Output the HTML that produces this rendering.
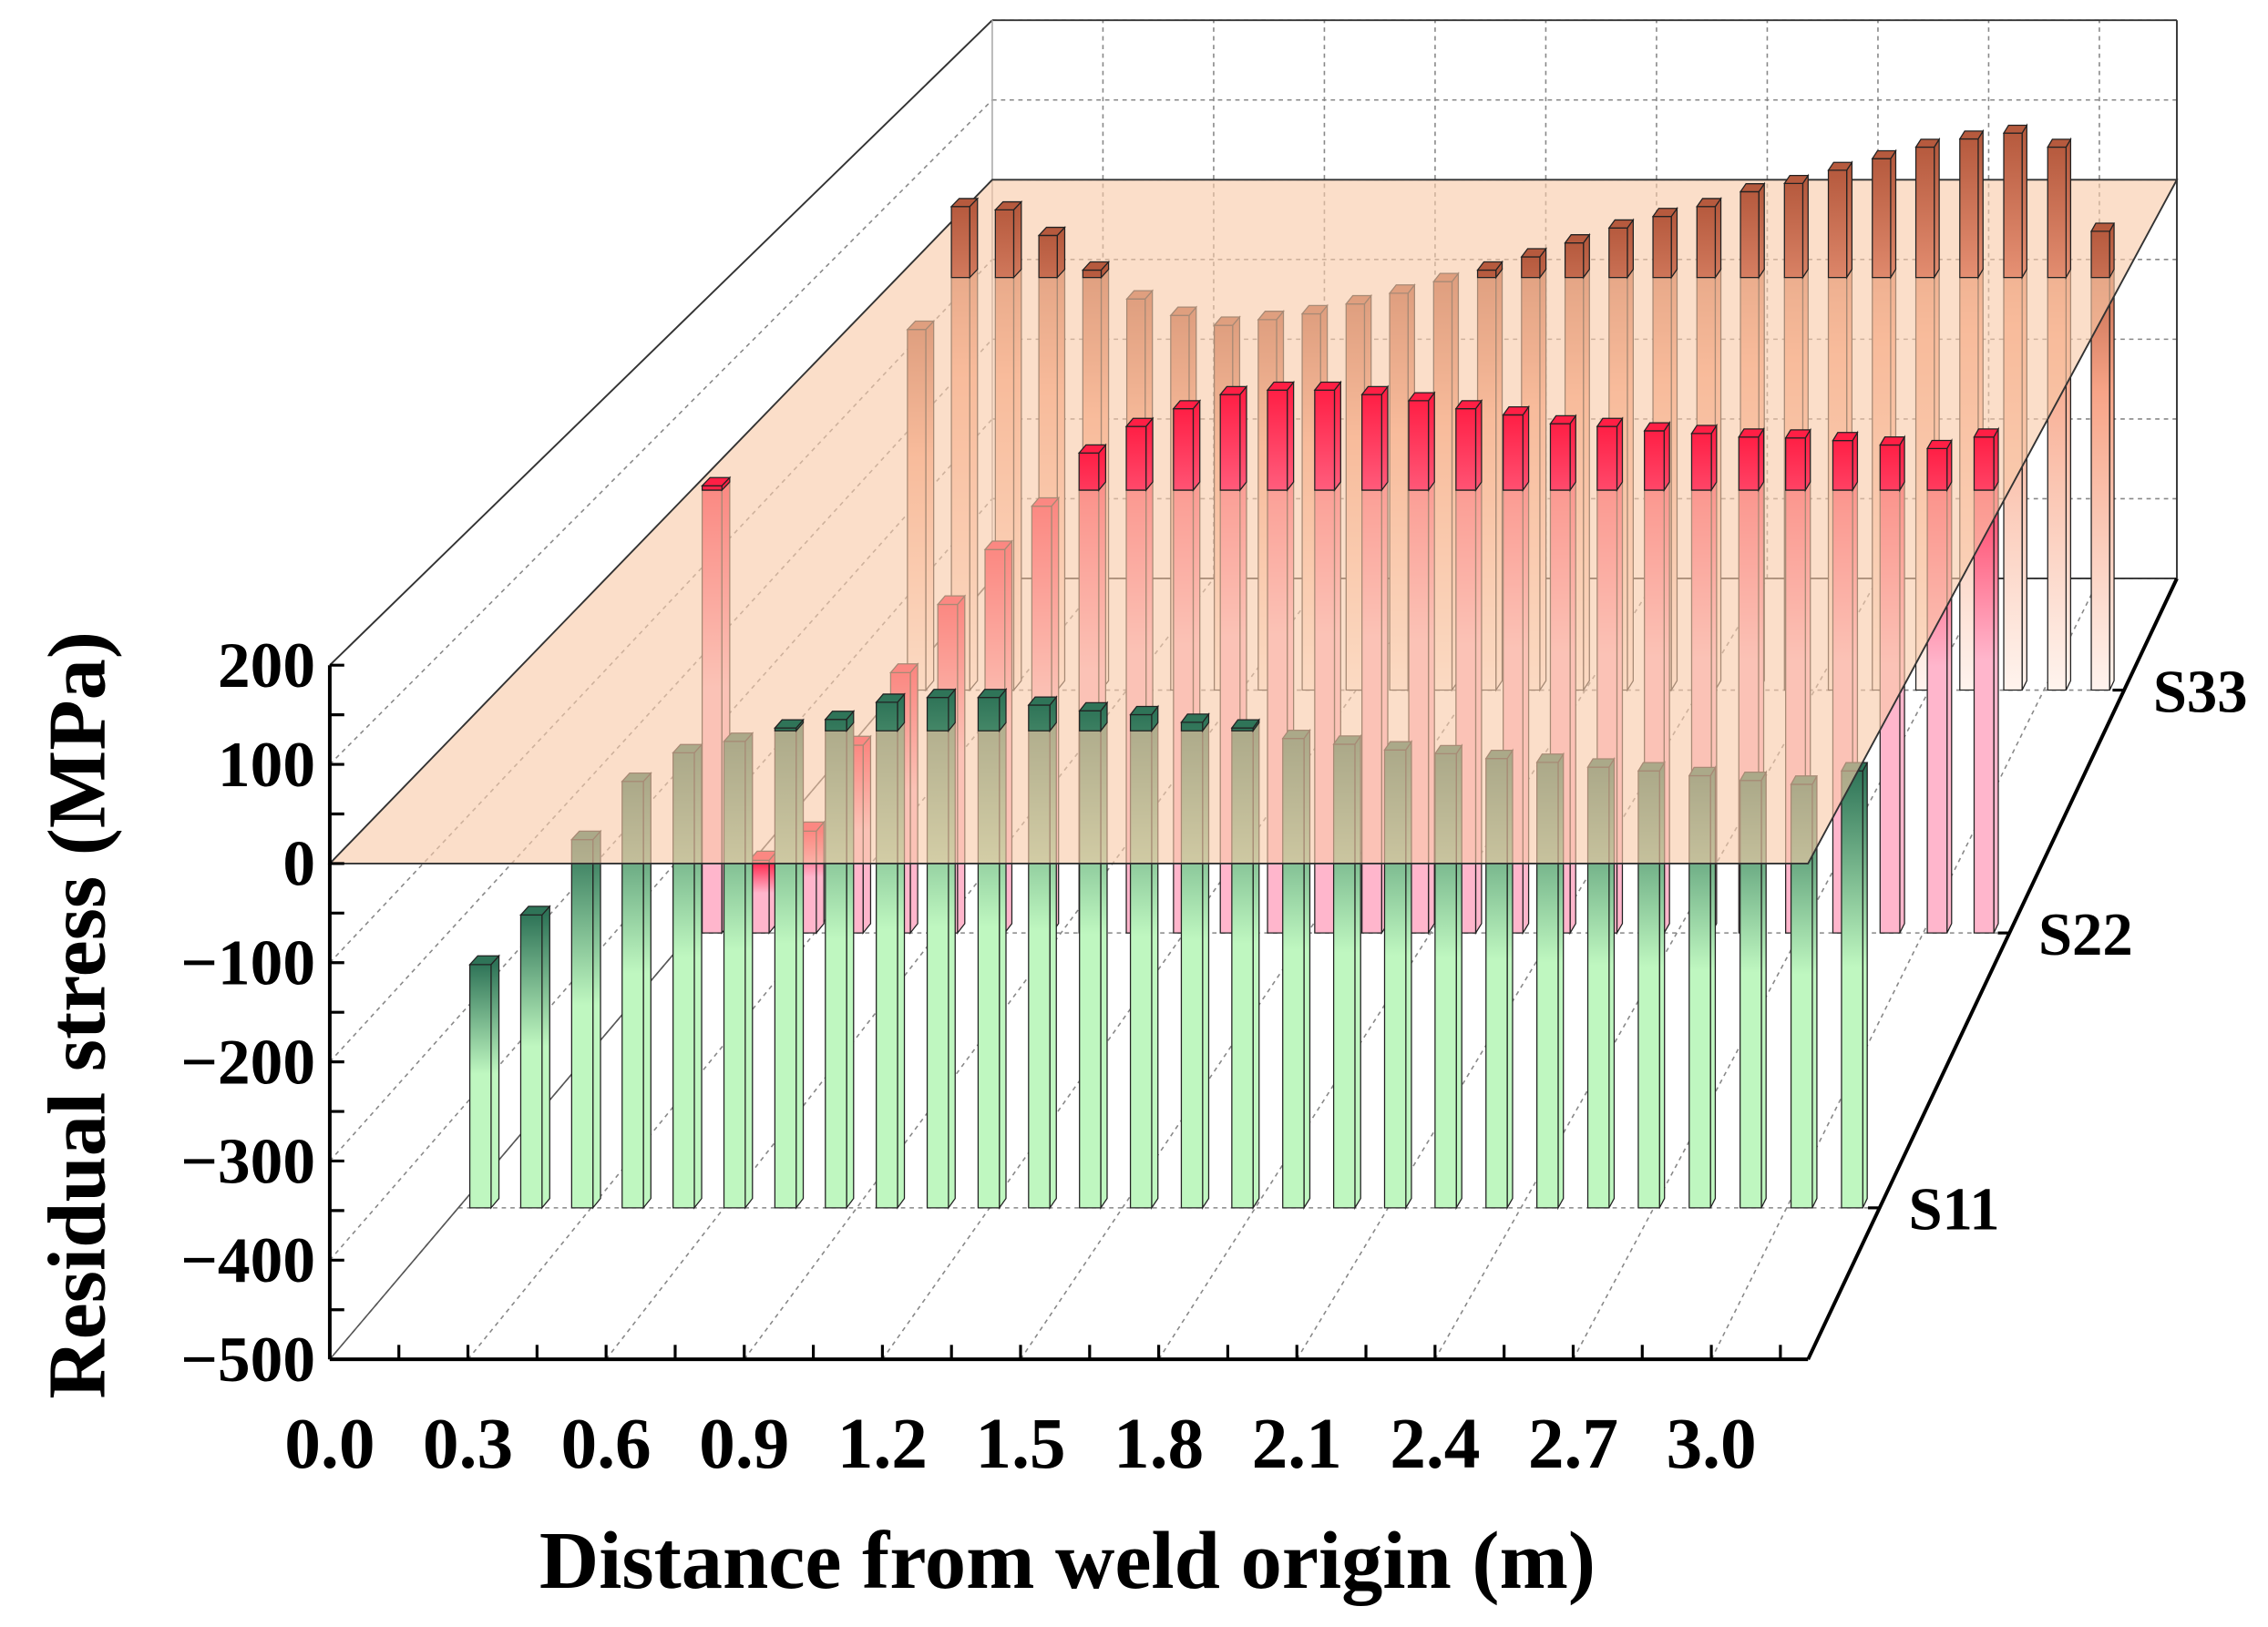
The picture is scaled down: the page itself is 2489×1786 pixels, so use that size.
<!DOCTYPE html>
<html><head><meta charset="utf-8"><style>
html,body{margin:0;padding:0;background:#fff}
svg{display:block}
text{font-family:"Liberation Serif",serif;font-weight:bold;fill:#000}
</style></head><body>
<svg id="chart" width="2489" height="1786" viewBox="0 0 1568 1125.1" preserveAspectRatio="none" xmlns="http://www.w3.org/2000/svg">
<defs id="defs"></defs>
<g id="grid"></g>
<g id="box"></g>
<g id="below"></g>
<g id="plane"></g>
<g id="above"></g>
<g id="axes"></g>
<text transform="translate(72,702) rotate(-90)" text-anchor="middle" font-size="57">Residual stress (MPa)</text>
<text x="738" y="1098" text-anchor="middle" font-size="57">Distance from weld origin (m)</text>
</svg>
<script>
const positions = [0.05,0.165,0.28,0.394,0.509,0.624,0.739,0.853,0.968,1.083,1.198,1.312,1.427,1.542,1.657,1.771,1.886,2.001,2.116,2.23,2.345,2.46,2.575,2.689,2.804,2.919,3.034,3.148];
const s11 = [-245,-193,-114,-53,-23,-11,3,12,30,35,35,27,21,17,9,3,-8,-14,-20,-24,-29,-33,-38,-42,-47,-52,-56,-42];
const s22 = [5,-418,-385,-288,-206,-129,-67,-18,42,72,92,108,113,113,108,101,92,85,75,72,67,64,60,59,56,51,47,60];
const s33 = [-63,86,82,51,9,-26,-46,-58,-51,-44,-32,-19,-5,9,25,42,60,74,86,104,114,130,144,158,168,175,158,56];
const seriesNames = ["S11","S22","S33"];
const seriesDepth = [0.194,0.546,0.857];
const xTickLabels = ["0.0","0.3","0.6","0.9","1.2","1.5","1.8","2.1","2.4","2.7","3.0"];
const yTickLabels = ["200","100","0","\u2212100","\u2212200","\u2212300","\u2212400","\u2212500"];
const yTickValues = [200,100,0,-100,-200,-300,-400,-500];

const XMAX=3.21, ZMIN=-500, ZMAX=200;
const NS="http://www.w3.org/2000/svg";
function L(d){return 228+458*d;} function R(d){return 1250+255*d;}
function B(d){return 940-540*d;} function T(d){return 460-446*d;}
function P(x,d,z){const l=L(d),r=R(d),b=B(d),t=T(d);return [l+x/XMAX*(r-l), b-(z-ZMIN)/(ZMAX-ZMIN)*(b-t)];}
function el(tag,attrs,parent){const e=document.createElementNS(NS,tag);for(const k in attrs)e.setAttribute(k,attrs[k]);parent.appendChild(e);return e;}
function pts(a){return a.map(p=>p[0].toFixed(2)+","+p[1].toFixed(2)).join(" ");}
const defs=document.getElementById('defs'),grid=document.getElementById('grid'),box=document.getElementById('box');
const below=document.getElementById('below'),above=document.getElementById('above'),plane=document.getElementById('plane'),axes=document.getElementById('axes');

const dash={stroke:"#888","stroke-width":1,"stroke-dasharray":"3,3",fill:"none"};
for(let x=0.3;x<XMAX;x+=0.3){
  let a=P(x,0,ZMIN),b=P(x,1,ZMIN);let ln=el('line',Object.assign({x1:a[0],y1:a[1],x2:b[0],y2:b[1]},dash),grid);
  
  a=P(x,1,ZMIN);b=P(x,1,ZMAX);ln=el('line',Object.assign({x1:a[0],y1:a[1],x2:b[0],y2:b[1]},dash),grid);
  
}
for(const z of yTickValues){
  let a=P(0,0,z),b=P(0,1,z);let ln=el('line',Object.assign({x1:a[0],y1:a[1],x2:b[0],y2:b[1]},dash),grid);
  
  a=P(0,1,z);b=P(XMAX,1,z);ln=el('line',Object.assign({x1:a[0],y1:a[1],x2:b[0],y2:b[1]},dash),grid);
  
}
for(const d of seriesDepth){
  const a=P(0,d,ZMIN),b=P(XMAX,d,ZMIN);const ln=el('line',Object.assign({x1:a[0],y1:a[1],x2:b[0],y2:b[1]},dash),grid);
  
}
function line(a,b,w,c,name,parent){const ln=el('line',{x1:a[0],y1:a[1],x2:b[0],y2:b[1],stroke:c,"stroke-width":w},parent||box);}
line(P(0,0,ZMAX),P(0,1,ZMAX),1.2,"#333","box-edge");
line(P(0,1,ZMAX),P(XMAX,1,ZMAX),1.2,"#333","box-edge");
line(P(0,1,ZMAX),P(0,1,ZMIN),1,"#aaa","box-edge");
line(P(XMAX,1,ZMAX),P(XMAX,1,ZMIN),1.2,"#333","box-edge");
line(P(0,0,ZMIN),P(0,1,ZMIN),1,"#555","box-edge");
line(P(0,1,ZMIN),P(XMAX,1,ZMIN),1.2,"#333","box-edge");

const colors=[["#2f7458","#bff7c0"],["#ff1f45","#ffb6cc"],["#b65a3e","#fff4ee"]];
const series=[s11,s22,s33];
const hw=0.024, dd=0.012;
let gid=0;
function face(a,parent,fill,op,name){const p=el('polygon',{points:pts(a),fill:fill,stroke:"#222","stroke-width":0.8,"fill-opacity":op},parent);}
function segment(x,d,z0,z1,grad,parent,top,name){
  face([P(x+hw,d,z0),P(x+hw,d+dd,z0),P(x+hw,d+dd,z1),P(x+hw,d,z1)],parent,grad,1,name+"-side");
  face([P(x-hw,d,z0),P(x+hw,d,z0),P(x+hw,d,z1),P(x-hw,d,z1)],parent,grad,1,name);
  if(top) face([P(x-hw,d,z1),P(x+hw,d,z1),P(x+hw,d+dd,z1),P(x-hw,d+dd,z1)],parent,colors[top-1][0],1,name+"-top");
}
for(let si=2;si>=0;si--){
  const d=seriesDepth[si],vals=series[si];
  for(let i=0;i<positions.length;i++){
    const v=vals[i],x=positions[i];
    const yt=P(x,d,v)[1],yb=P(x,d,ZMIN)[1];
    const g=el('linearGradient',{id:'g'+gid,gradientUnits:'userSpaceOnUse',x1:0,y1:yt,x2:0,y2:yb},defs);
    el('stop',{offset:0,'stop-color':colors[si][0]},g);
    el('stop',{offset:si==2?0.35:0.45,'stop-color':si==2?"#f7a487":colors[si][1]},g);
    el('stop',{offset:1,'stop-color':colors[si][1]},g);
    const fill='url(#g'+gid+')';gid++;
    const nm='bar-'+seriesNames[si].toLowerCase()+'-'+(i+1);
    if(v<=0){segment(x,d,ZMIN,v,fill,below,si+1,nm);}
    else{segment(x,d,ZMIN,0,fill,below,0,nm);segment(x,d,0,v,fill,above,si+1,nm);}
  }
}
const pp=el('polygon',{points:pts([P(0,0,0),P(XMAX,0,0),P(XMAX,1,0),P(0,1,0)]),fill:"#f9c9a8","fill-opacity":0.62,stroke:"#333","stroke-width":1.2},plane);


line(P(0,0,ZMIN),P(0,0,ZMAX),2.5,"#000","y-axis-line",axes);
line(P(0,0,ZMIN),P(XMAX,0,ZMIN),2.5,"#000","x-axis-line",axes);
line(P(XMAX,0,ZMIN),P(XMAX,1,ZMIN),2.5,"#000","depth-axis-line",axes);
for(let z=ZMIN;z<=ZMAX;z+=50){const a=P(0,0,z);line(a,[a[0]+10,a[1]],2,"#000","y-tick",axes);}
for(let i=0;i<yTickValues.length;i++){const a=P(0,0,yTickValues[i]);
  const t=el('text',{x:a[0]-10,y:a[1]+15,'text-anchor':'end','font-size':45},axes);t.textContent=yTickLabels[i];
  }
for(let k=0;k*0.15<XMAX;k++){const a=P(k*0.15,0,ZMIN);line(a,[a[0],a[1]-10],2,"#000","x-tick",axes);}
for(let i=0;i<xTickLabels.length;i++){const a=P(i*0.3,0,ZMIN);
  const t=el('text',{x:a[0],y:1015,'text-anchor':'middle','font-size':50},axes);t.textContent=xTickLabels[i];
  }
for(let si=0;si<3;si++){const a=P(XMAX,seriesDepth[si],ZMIN);
  line(a,[a[0]-8,a[1]],2,"#000","depth-tick",axes);
  const t=el('text',{x:a[0]+20,y:a[1]+15,'font-size':42},axes);t.textContent=seriesNames[si];
  }
</script>
</body></html>
